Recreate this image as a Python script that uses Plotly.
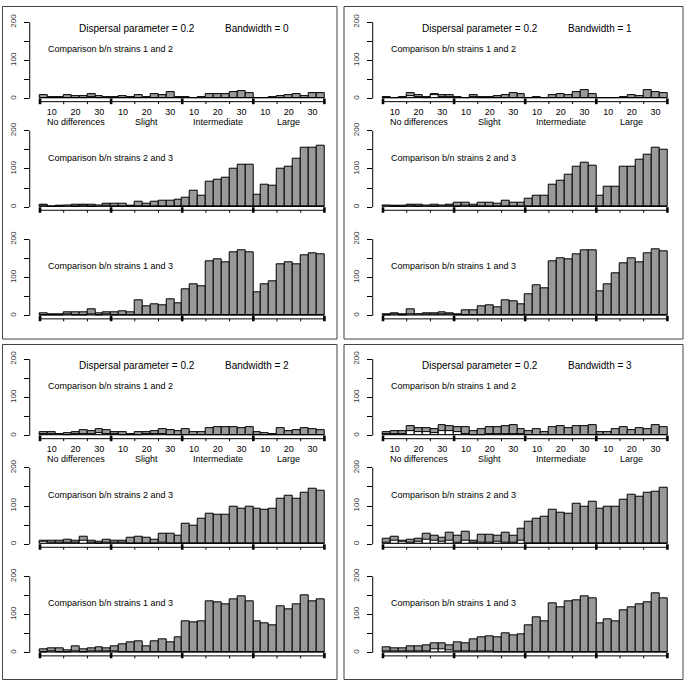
import plotly.graph_objects as go

group_labels = ["No differences", "Slight", "Intermediate", "Large"]
tick_labels = ["10", "20", "30"]
bandwidths = [0, 1, 2, 3]
dispersal = 0.2
comparisons = [
    "Comparison b/n strains 1 and 2",
    "Comparison b/n strains 2 and 3",
    "Comparison b/n strains 1 and 3",
]

# counts per bin: 4 groups x 9 bins, grey = all, white = overlaid subset
bw0_12 = [8, 4, 3, 9, 6, 7, 12, 7, 5, 5, 7, 4, 8, 4, 13, 9, 18, 5,
          3, 0, 3, 12, 11, 13, 18, 20, 14, 1, 0, 5, 6, 8, 13, 6, 15, 15]
bw0_12_w = [2, 1, 1, 2, 2, 2, 3, 2, 1, 1, 2, 1, 1, 1, 2, 1, 2, 1,
            0, 0, 0, 0, 0, 0, 0, 0, 0, 0, 0, 0, 0, 0, 0, 0, 0, 0]
bw0_23 = [7, 2, 3, 5, 6, 6, 7, 5, 10, 9, 9, 4, 15, 10, 14, 18, 18, 20,
          24, 43, 31, 67, 72, 76, 102, 110, 112, 34, 58, 57, 100, 106, 128, 155, 156, 160]
bw0_23_w = [3, 1, 2, 3, 2, 3, 2, 3, 4, 2, 2, 1, 2, 1, 2, 1, 1, 1,
            0, 0, 0, 0, 0, 0, 0, 0, 0, 0, 0, 0, 0, 0, 0, 0, 0, 0]
bw0_13 = [6, 4, 3, 9, 8, 8, 16, 6, 9, 9, 12, 9, 40, 26, 31, 28, 43, 32,
          70, 83, 77, 142, 147, 140, 167, 172, 165, 62, 83, 90, 136, 139, 136, 159, 163, 162]
bw0_13_w = [2, 1, 1, 3, 2, 2, 3, 2, 3, 2, 2, 1, 1, 1, 1, 1, 1, 1,
            0, 0, 0, 0, 0, 0, 0, 0, 0, 0, 0, 0, 0, 0, 0, 0, 0, 0]

bw1_12 = [4, 2, 4, 15, 9, 5, 13, 9, 9, 4, 2, 8, 4, 3, 6, 10, 14, 13,
          2, 4, 0, 8, 12, 10, 18, 22, 13, 0, 1, 2, 5, 9, 7, 22, 16, 14]
bw1_12_w = [2, 1, 2, 7, 4, 2, 10, 4, 3, 2, 1, 3, 2, 1, 2, 2, 2, 1,
            0, 0, 0, 0, 0, 0, 0, 0, 0, 0, 0, 0, 0, 0, 0, 0, 0, 0]
bw1_23 = [5, 3, 3, 7, 7, 5, 6, 5, 6, 12, 13, 6, 13, 13, 9, 17, 13, 13,
          21, 29, 30, 60, 69, 84, 106, 116, 109, 31, 53, 53, 106, 106, 123, 138, 155, 151]
bw1_23_w = [3, 2, 2, 3, 2, 3, 2, 3, 3, 2, 3, 2, 2, 2, 1, 2, 1, 1,
            0, 0, 0, 0, 0, 0, 0, 0, 0, 0, 0, 0, 0, 0, 0, 0, 0, 0]
bw1_13 = [3, 6, 5, 18, 5, 7, 7, 10, 6, 5, 14, 14, 25, 28, 23, 40, 38, 30,
          57, 81, 71, 142, 150, 149, 162, 171, 172, 64, 83, 110, 137, 151, 140, 164, 175, 170]
bw1_13_w = [2, 3, 2, 3, 3, 3, 3, 4, 3, 2, 1, 1, 1, 1, 1, 1, 1, 1,
            0, 0, 0, 0, 0, 0, 0, 0, 0, 0, 0, 0, 0, 0, 0, 0, 0, 0]

bw2_12 = [10, 9, 4, 7, 10, 14, 12, 17, 14, 10, 8, 4, 8, 10, 12, 18, 15, 11,
          18, 8, 10, 20, 22, 23, 22, 19, 21, 8, 7, 5, 20, 11, 15, 20, 18, 15]
bw2_12_w = [4, 3, 3, 2, 3, 5, 4, 6, 4, 3, 2, 2, 2, 3, 3, 3, 2, 2,
            1, 1, 1, 1, 1, 1, 1, 1, 1, 0, 0, 0, 0, 0, 0, 0, 0, 0]
bw2_23 = [9, 9, 8, 11, 9, 20, 10, 7, 11, 10, 10, 18, 19, 16, 11, 27, 27, 21,
          54, 48, 66, 80, 77, 77, 99, 94, 97, 93, 89, 92, 119, 127, 120, 134, 144, 141]
bw2_23_w = [6, 4, 3, 4, 4, 9, 3, 2, 3, 3, 3, 2, 2, 2, 2, 3, 2, 1,
            0, 0, 0, 0, 0, 0, 0, 0, 0, 0, 0, 0, 0, 0, 0, 0, 0, 0]
bw2_13 = [9, 11, 11, 6, 17, 10, 11, 14, 13, 17, 22, 28, 31, 18, 30, 36, 27, 41,
          82, 81, 82, 135, 132, 127, 141, 149, 134, 82, 78, 73, 122, 114, 126, 150, 134, 140]
bw2_13_w = [2, 3, 2, 1, 3, 2, 3, 5, 3, 3, 2, 2, 2, 1, 2, 1, 1, 1,
            0, 0, 0, 0, 0, 0, 0, 0, 0, 0, 0, 0, 0, 0, 0, 0, 0, 0]

bw3_12 = [9, 12, 12, 25, 20, 20, 16, 28, 25, 23, 21, 12, 17, 22, 22, 24, 28, 16,
          12, 17, 10, 23, 25, 20, 24, 24, 28, 10, 10, 18, 21, 15, 20, 16, 28, 21]
bw3_12_w = [3, 4, 4, 12, 8, 8, 6, 12, 12, 8, 5, 2, 2, 3, 5, 3, 4, 3,
            1, 1, 1, 2, 2, 1, 1, 1, 2, 1, 1, 1, 1, 1, 2, 1, 1, 1]
bw3_23 = [14, 20, 10, 13, 14, 28, 23, 18, 29, 21, 32, 10, 24, 24, 23, 29, 23, 40,
          60, 67, 73, 89, 82, 79, 107, 97, 111, 92, 97, 99, 117, 129, 125, 135, 137, 147]
bw3_23_w = [5, 8, 6, 4, 6, 12, 10, 7, 10, 5, 10, 3, 3, 3, 6, 4, 5, 8,
            1, 2, 1, 1, 1, 1, 1, 0, 1, 0, 0, 0, 0, 0, 0, 0, 0, 0]
bw3_13 = [14, 11, 11, 16, 18, 19, 26, 24, 20, 28, 25, 35, 41, 42, 41, 52, 46, 48,
          72, 93, 82, 130, 119, 134, 137, 148, 143, 77, 88, 83, 111, 120, 128, 133, 156, 143]
bw3_13_w = [3, 3, 4, 4, 3, 3, 9, 8, 6, 4, 3, 5, 3, 3, 2, 2, 1, 1,
            0, 0, 0, 0, 0, 0, 0, 0, 0, 0, 0, 0, 0, 0, 0, 0, 0, 0]

grey_sets = [[bw0_12, bw0_23, bw0_13], [bw1_12, bw1_23, bw1_13],
             [bw2_12, bw2_23, bw2_13], [bw3_12, bw3_23, bw3_13]]
white_sets = [[bw0_12_w, bw0_23_w, bw0_13_w], [bw1_12_w, bw1_23_w, bw1_13_w],
              [bw2_12_w, bw2_23_w, bw2_13_w], [bw3_12_w, bw3_23_w, bw3_13_w]]

W, H = 686, 683
FONT = "Liberation Sans, Arial, sans-serif"
K = 77 / 200      # px per count
BAR = 7.9         # px per bin


def px(x):
    return x / W


def py(y):
    return 1 - y / H


n_bins = len(bw0_12)
per_group = n_bins // len(group_labels)
centers = [i + 0.5 for i in range(n_bins)]

fig = go.Figure()
shapes = []
annotations = []
layout = {}

for p, bw in enumerate(bandwidths):
    col, row = p % 2, p // 2
    ox, oy = 343 * col, 339.5 * row
    for s in range(3):
        n = p * 3 + s + 1
        xa, ya = f"x{n}" if n > 1 else "x", f"y{n}" if n > 1 else "y"
        zero = 94.3 + 109.4 * s + oy

        fig.add_trace(go.Bar(x=centers, y=grey_sets[p][s], width=1, xaxis=xa, yaxis=ya,
                             marker=dict(color="#999999", line=dict(color="black", width=1)),
                             showlegend=False))
        fig.add_trace(go.Bar(x=centers, y=white_sets[p][s], width=1, xaxis=xa, yaxis=ya,
                             marker=dict(color="white", line=dict(color="black", width=1)),
                             showlegend=False))

        tickvals = [g * per_group + 1.5 + 3 * j for g in range(len(group_labels)) for j in range(3)]
        layout[f"xaxis{n if n > 1 else ''}"] = dict(
            domain=[px(40 + ox - 1.3 * BAR), px(40 + ox + 37.3 * BAR)],
            range=[-1.3, n_bins + 1.3], anchor=ya,
            showgrid=False, zeroline=False, showline=False, ticks="",
            tickvals=tickvals, ticktext=tick_labels * len(group_labels),
            showticklabels=(s == 0), tickfont=dict(size=9, color="black"),
        )
        layout[f"yaxis{n if n > 1 else ''}"] = dict(
            domain=[py(zero + 16 * K), py(zero - 208 * K)],
            range=[-16, 208], anchor=xa,
            showgrid=False, zeroline=False, showline=False,
            ticks="outside", ticklen=5, tickcolor="black", tickwidth=1,
            tickvals=[0, 50, 100, 150, 200], ticktext=["0", "", "100", "", "200"],
            tickangle=-90, tickfont=dict(size=8, color="#333333"), ticklabelstandoff=5,
        )

        # axes drawn R-style
        shapes.append(dict(type="line", xref=xa, yref=ya, x0=0, x1=n_bins, y0=-8, y1=-8,
                           line=dict(color="black", width=1)))
        shapes.append(dict(type="line", xref=f"{xa} domain", yref=ya, x0=0, x1=0, y0=0, y1=200,
                           line=dict(color="black", width=1)))
        for b in range(0, n_bins + 1, 3):
            thick = b % per_group == 0
            shapes.append(dict(type="line", xref=xa, yref=ya, x0=b, x1=b,
                               y0=0 if thick else -8, y1=-14.5,
                               line=dict(color="black", width=2.6 if thick else 1)))

        annotations.append(dict(text=comparisons[s], xref=xa, yref=ya, x=0.75, y=130,
                                xanchor="left", yanchor="middle", showarrow=False,
                                font=dict(size=9, color="black")))
        if s == 0:
            annotations.append(dict(text=f"Dispersal parameter = {dispersal}", xref=xa, yref=ya,
                                    x=4.7, y=183, xanchor="left", yanchor="middle",
                                    showarrow=False, font=dict(size=10, color="black")))
            annotations.append(dict(text=f"Bandwidth = {bw}", xref=xa, yref=ya,
                                    x=23.2, y=183, xanchor="left", yanchor="middle",
                                    showarrow=False, font=dict(size=10, color="black")))
            for g, lab in enumerate(group_labels):
                annotations.append(dict(text=lab, xref=xa, yref="paper",
                                        x=g * per_group + 4.5, y=py(118 + oy),
                                        xanchor="center", yanchor="middle", showarrow=False,
                                        font=dict(size=9, color="black")))

    # panel frame
    shapes.append(dict(type="rect", xref="paper", yref="paper",
                       x0=px(2.5 + 341.5 * col), x1=px(337 + 346 * col),
                       y0=py(336.5 + 343 * row), y1=py(1.5 + 340.5 * row),
                       line=dict(color="#444444", width=1)))

fig.update_layout(
    width=W, height=H, margin=dict(l=0, r=0, t=0, b=0),
    barmode="overlay", bargap=0,
    paper_bgcolor="white", plot_bgcolor="white",
    font=dict(family=FONT, color="black"),
    shapes=shapes, annotations=annotations, **layout,
)

# pin the graph to the window's top-left corner
pin = ("document.body.style.margin='0';document.body.style.padding='0';"
       "document.body.style.overflow='hidden';"
       "var d=document.getElementById('{plot_id}');"
       "d.style.position='fixed';d.style.top='0';d.style.left='0';")
fig.write_html("out.html", config={"displayModeBar": False}, post_script=pin)
